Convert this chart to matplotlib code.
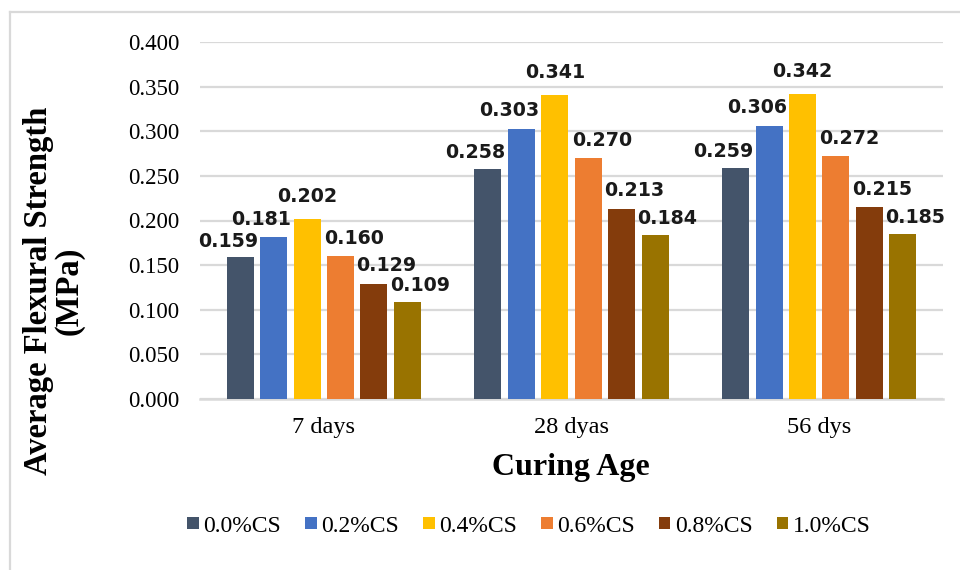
import numpy as np
import matplotlib
matplotlib.use("Agg")
import matplotlib.pyplot as plt
from matplotlib.lines import Line2D

# data
categories = ["7 days", "28 dyas", "56 dys"]
series_names = ["0.0%CS", "0.2%CS", "0.4%CS", "0.6%CS", "0.8%CS", "1.0%CS"]
cs_00 = [0.159, 0.258, 0.259]
cs_02 = [0.181, 0.303, 0.306]
cs_04 = [0.202, 0.341, 0.342]
cs_06 = [0.160, 0.270, 0.272]
cs_08 = [0.129, 0.213, 0.215]
cs_10 = [0.109, 0.184, 0.185]
yticks = [0.0, 0.05, 0.10, 0.15, 0.20, 0.25, 0.30, 0.35, 0.40]

series = [cs_00, cs_02, cs_04, cs_06, cs_08, cs_10]
colors = ["#44546A", "#4472C4", "#FFC000", "#ED7D31", "#843C0C", "#997300"]

# label placement (Excel nudges labels sideways / upwards to avoid overlap)
label_ha = ["right", "right", "center", "left", "left", "left"]
label_dx = [3, 3, 0, -2, -3, -3]        # points
label_dy = [7.5, 9, 12, 9, 9, 7.5]      # points, baseline above bar top

serif = "Liberation Serif"

fig = plt.figure(figsize=(9.6, 5.7), dpi=100)
ax = fig.add_axes([200 / 960, 1 - 399 / 570, 743 / 960, 357 / 570])

x = np.arange(len(categories))
step = 0.135
width = 0.109

for i, (vals, col) in enumerate(zip(series, colors)):
    pos = x + (i - 2.5) * step
    ax.bar(pos, vals, width=width, color=col, label=series_names[i], zorder=3)
    for p, v in zip(pos, vals):
        if label_ha[i] == "right":
            px = p + width / 2
        elif label_ha[i] == "left":
            px = p - width / 2
        else:
            px = p
        ax.annotate(f"{v:.3f}", (px, v), xytext=(label_dx[i], label_dy[i]),
                    textcoords="offset points", ha=label_ha[i], va="baseline",
                    fontsize=13.7, fontweight="bold", family="DejaVu Sans",
                    color="#1a1a1a", zorder=4)

ax.set_xlim(-0.5, 2.5)
ax.set_ylim(0, 0.4)
ax.set_yticks(yticks)
ax.set_yticklabels([f"{t:.3f}" for t in yticks], family=serif, fontsize=16.5)
ax.set_xticks(x)
ax.set_xticklabels(categories, family=serif, fontsize=17.5)
ax.tick_params(axis="y", length=0, pad=15)
ax.tick_params(axis="x", length=0, pad=13)

ax.grid(axis="y", color="#D9D9D9", linewidth=1.6, zorder=0)
ax.set_axisbelow(True)
for s in ["top", "right", "left"]:
    ax.spines[s].set_visible(False)
ax.spines["bottom"].set_color("#D9D9D9")
ax.spines["bottom"].set_linewidth(1.8)

fig.text(571 / 960, 1 - 467 / 570, "Curing Age", family=serif,
         fontsize=23, fontweight="bold", ha="center", va="center")
fig.text(54 / 960, 1 - 291 / 570, "Average Flexural Strength\n(MPa)",
         family=serif, fontsize=23.5, fontweight="bold", rotation=90,
         ha="center", va="center", multialignment="center", linespacing=1.0)

fig.legend(loc="center", bbox_to_anchor=(529 / 960, 1 - 526 / 570), ncol=6,
           frameon=False, prop={"family": serif, "size": 17},
           handlelength=0.5, handleheight=0.45, handletextpad=0.2,
           columnspacing=1.0)

# chart border (only top and left visible in the crop)
fig.add_artist(Line2D([10 / 960, 1], [1 - 12 / 570, 1 - 12 / 570],
                      transform=fig.transFigure, color="#D9D9D9", lw=1.6))
fig.add_artist(Line2D([10 / 960, 10 / 960], [0, 1 - 12 / 570],
                      transform=fig.transFigure, color="#D9D9D9", lw=1.6))

fig.savefig("out.png", dpi=100, facecolor="white")
